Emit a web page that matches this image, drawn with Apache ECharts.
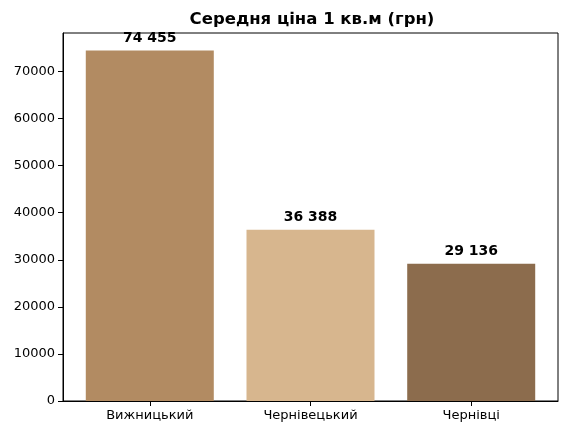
<!DOCTYPE html>
<html>
<head>
<meta charset="utf-8">
<script src="https://cdn.jsdelivr.net/npm/echarts@6/dist/echarts.min.js"></script>
<style>
  html, body { margin: 0; padding: 0; background: #fff; }
  #chart { width: 569px; height: 435px; }
</style>
</head>
<body>
<div id="chart"></div>
<script>
const categories = ["Вижницький", "Чернівецький", "Чернівці"];
const prices = [74455, 36388, 29136];
const barColors = ["#b28b62", "#d7b68e", "#8c6c4d"];
const yTicks = [0, 10000, 20000, 30000, 40000, 50000, 60000, 70000];

const font = "DejaVu Sans";
const fmt = (v) => String(v).replace(/\B(?=(\d{3})+(?!\d))/g, " ");

const chart = echarts.init(document.getElementById("chart"), null, {
  renderer: "canvas",
});
const option = {
  animation: false,
  title: {
    text: "Середня ціна 1 кв.м (грн)",
    left: 307,
    textAlign: "center",
    top: 6,
    textStyle: { fontFamily: font, fontSize: 16.5, fontWeight: "bold", color: "#000" },
  },
  grid: {
    left: 63,
    right: 11,
    top: 33,
    bottom: 34,
    show: true,
    borderColor: "#000",
    borderWidth: 1,
  },
  xAxis: {
    type: "value",
    min: -0.54,
    max: 2.54,
    splitLine: { show: false },
    axisLine: { show: true, onZero: false, lineStyle: { color: "#000" } },
    axisTick: {
      show: true,
      length: 5,
      customValues: [0, 1, 2],
      lineStyle: { color: "#000" },
    },
    axisLabel: {
      customValues: [0, 1, 2],
      formatter: (v) => categories[Math.round(v)],
      fontFamily: font,
      fontSize: 13,
      color: "#000",
      margin: 8,
    },
  },
  yAxis: {
    type: "value",
    min: 0,
    max: 78178,
    interval: 10000,
    splitLine: { show: false },
    axisLine: { show: true, onZero: false, lineStyle: { color: "#000" } },
    axisTick: { show: true, length: 5, lineStyle: { color: "#000" } },
    axisLabel: {
      fontFamily: font,
      fontSize: 13,
      color: "#000",
      margin: 8,
      showMaxLabel: false,
      formatter: (v) => (yTicks.includes(v) ? String(v) : ""),
    },
  },
  series: [
    {
      type: "bar",
      barWidth: 128,
      data: prices.map((v, i) => ({
        value: [i, v],
        itemStyle: { color: barColors[i] },
      })),
      label: {
        show: true,
        position: "top",
        distance: 5,
        formatter: (p) => fmt(p.value[1]),
        fontFamily: font,
        fontSize: 14,
        fontWeight: "bold",
        color: "#000",
      },
    },
  ],
};
chart.setOption(option);
</script>
</body>
</html>
